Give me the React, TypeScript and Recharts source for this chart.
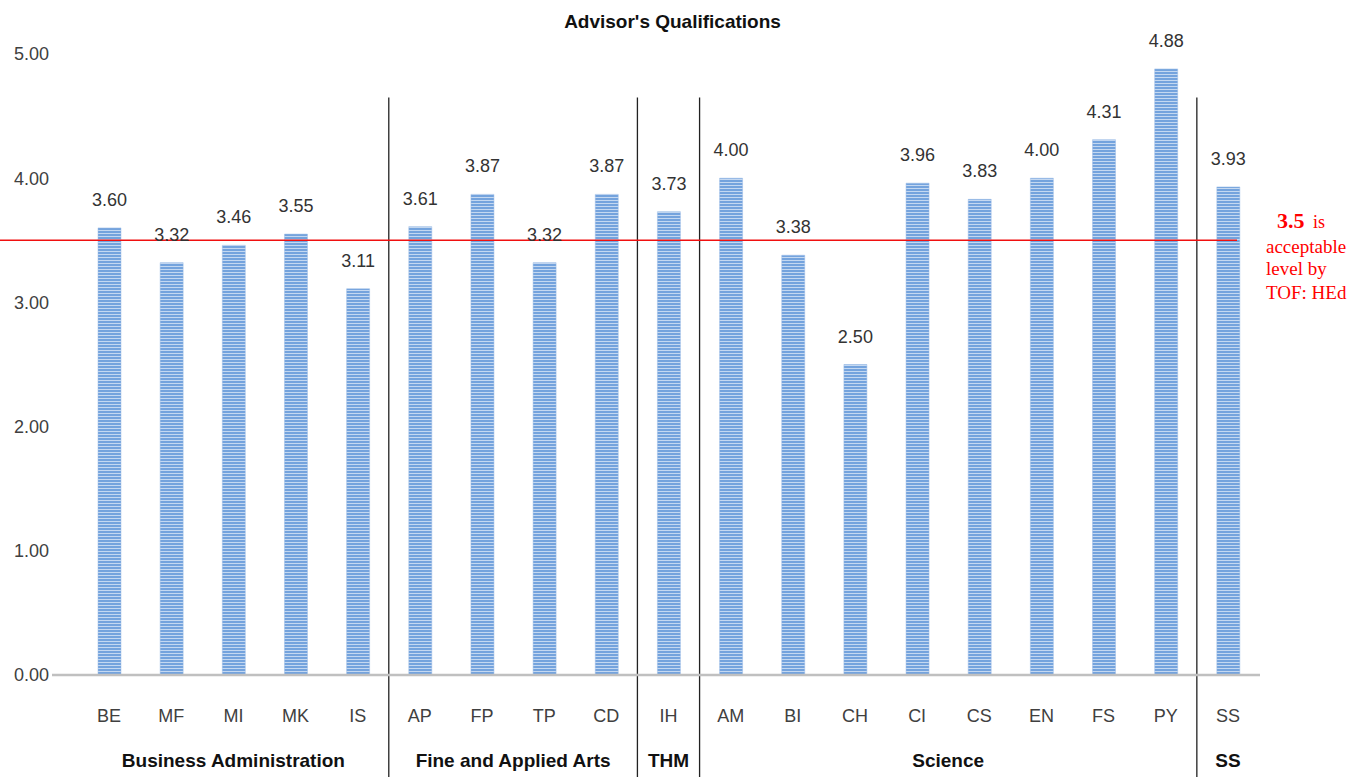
import React from 'react';
import {
  Bar,
  BarChart,
  LabelList,
  ReferenceLine,
  XAxis,
  YAxis,
} from 'recharts';

const programs = ['BE', 'MF', 'MI', 'MK', 'IS', 'AP', 'FP', 'TP', 'CD', 'IH', 'AM', 'BI', 'CH', 'CI', 'CS', 'EN', 'FS', 'PY', 'SS'];
const scores = [3.6, 3.32, 3.46, 3.55, 3.11, 3.61, 3.87, 3.32, 3.87, 3.73, 4.0, 3.38, 2.5, 3.96, 3.83, 4.0, 4.31, 4.88, 3.93];

const groupNames = ['Business Administration', 'Fine and Applied Arts', 'THM', 'Science', 'SS'];
const groupSizes = [5, 4, 1, 8, 1];

const yTicks = [0, 1, 2, 3, 4, 5];
const acceptableLevel = 3.5;

const data = programs.map((program, i) => ({ program, idx: i, score: scores[i] }));

// group centres and boundaries in index units (category i sits at i)
const groupStarts = groupSizes.map((_, i) => groupSizes.slice(0, i).reduce((a, b) => a + b, 0));
const groupCenters = groupStarts.map((s, i) => s + (groupSizes[i] - 1) / 2);
const boundaries = groupStarts.slice(1).map((s) => s - 0.5);

const CHART_W = 1363;
const PAD_L = 26;
const PAD_R = 1;
const PLOT_L = 52;
const PLOT_R = 103;
const halfBand = (CHART_W - PLOT_L - PLOT_R - PAD_L - PAD_R) / programs.length / 2;

const FONT = '"Liberation Sans", Arial, sans-serif';
const SERIF = '"Liberation Serif", "Times New Roman", serif';

function AcceptableLine(props: any) {
  const { x1, x2, y1 } = props;
  const tx = x2 + 6;
  return (
    <g>
      <line x1={x1 - 52} x2={x2 - 23} y1={y1} y2={y1} stroke="#f01010" strokeWidth={1.4} />
      <text fill="#ff0000" fontFamily={SERIF}>
        <tspan x={tx + 11} y={y1 - 12} fontSize={22} fontWeight="bold">3.5</tspan>
        <tspan x={tx + 47} fontSize={18}>is</tspan>
        <tspan x={tx} y={y1 + 13} fontSize={19}>acceptable</tspan>
        <tspan x={tx} y={y1 + 35} fontSize={19}>level by</tspan>
        <tspan x={tx} y={y1 + 59} fontSize={19}>TOF: HEd</tspan>
      </text>
    </g>
  );
}

export default function App() {
  return (
    <div style={{ position: 'absolute', left: 0, top: 0, width: CHART_W, height: 777, background: '#fff' }}>
      <div
        style={{
          position: 'absolute',
          left: 0,
          top: 11,
          width: 1345,
          textAlign: 'center',
          fontFamily: FONT,
          fontWeight: 'bold',
          fontSize: 19,
          color: '#111',
        }}
      >
        Advisor's Qualifications
      </div>
      <BarChart
        width={CHART_W}
        height={777}
        data={data}
        margin={{ top: 54, right: PLOT_R, left: 0, bottom: 0 }}
        style={{ position: 'absolute', left: 0, top: 0 }}
      >
        <defs>
          <pattern id="stripes" width={6} height={3} patternUnits="userSpaceOnUse">
            <rect width={6} height={3} fill="#c4d8f1" />
            <rect width={6} height={2} fill="#74a3dd" />
          </pattern>
        </defs>
        <YAxis
          domain={[0, 5]}
          ticks={yTicks}
          width={PLOT_L}
          axisLine={false}
          tickLine={false}
          tickSize={0}
          tickMargin={3}
          tickFormatter={(v: number) => v.toFixed(2)}
          tick={{ fill: '#404040', fontSize: 18, fontFamily: FONT }}
        />
        <XAxis
          dataKey="program"
          height={60}
          padding={{ left: PAD_L, right: PAD_R }}
          axisLine={{ stroke: '#c0c0c0', strokeWidth: 2.5 }}
          tickLine={false}
          tickSize={0}
          tickMargin={34}
          interval={0}
          tick={{ fill: '#404040', fontSize: 18, fontFamily: FONT }}
        />
        <XAxis
          xAxisId="grp"
          dataKey="idx"
          type="number"
          domain={[0, programs.length - 1]}
          allowDataOverflow
          ticks={groupCenters}
          height={42}
          padding={{ left: PAD_L + halfBand, right: PAD_R + halfBand }}
          axisLine={false}
          tickLine={false}
          tickSize={0}
          tickMargin={19}
          interval={0}
          tickFormatter={(v: number) => groupNames[groupCenters.indexOf(v)] ?? ''}
          tick={{ fill: '#111', fontSize: 19, fontFamily: FONT, fontWeight: 'bold' }}
        />
        <Bar dataKey="score" barSize={23} fill="url(#stripes)" stroke="#9dbde6" strokeWidth={0.5} isAnimationActive={false}>
          <LabelList
            dataKey="score"
            position="top"
            offset={22}
            formatter={(v: number) => v.toFixed(2)}
            style={{ fill: '#333', fontSize: 18, fontFamily: FONT }}
          />
        </Bar>
        {boundaries.map((b) => (
          <ReferenceLine
            key={b}
            xAxisId="grp"
            segment={[
              { x: b, y: 4.65 },
              { x: b, y: -0.83 },
            ]}
            ifOverflow="visible"
            stroke="#222"
            strokeWidth={1.3}
          />
        ))}
        <ReferenceLine y={acceptableLevel} ifOverflow="visible" shape={AcceptableLine} />
      </BarChart>
    </div>
  );
}
